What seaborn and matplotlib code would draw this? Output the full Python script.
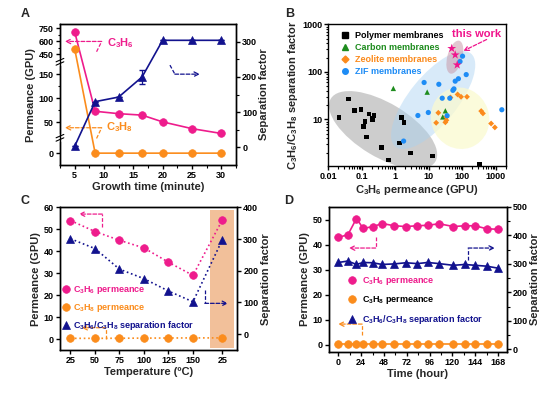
import numpy as np
import pandas as pd
import matplotlib
matplotlib.use("Agg")
import matplotlib.pyplot as plt
import matplotlib.transforms as mtransforms
from matplotlib.patches import Ellipse
from matplotlib.lines import Line2D
from matplotlib.ticker import MultipleLocator, FixedLocator, FuncFormatter
import seaborn as sns

PINK = "#ee1c8c"
ORANGE = "#fb8c1c"
NAVY = "#12128e"

# A) permeance / separation factor vs growth time
growth_time = [5, 8.5, 12.5, 16.5, 20, 25, 30]
a_c3h6 = [712, 73, 68, 65, 51, 37, 27]
a_c3h8 = [515, 0.3, 0.3, 0.3, 0.3, 0.3, 0.3]
a_sf = [3, 130, 143, 200, 304, 304, 304]
a_sf_err = [0, 0, 0, 20, 0, 0, 0]

# B) Robeson-type comparison (GPU, separation factor)
polymer_x = [0.021, 0.040, 0.061, 0.093, 0.114, 0.123, 0.138, 0.165, 0.20, 0.228, 0.207,
             0.39, 0.63, 1.5, 1.8, 1.34, 2.77, 12.8, 324]
polymer_y = [11.0, 26.7, 15.2, 16.2, 7.2, 9.1, 4.3, 12.9, 10.4, 12.0, 10.0,
             2.57, 1.39, 11.0, 8.6, 3.2, 1.96, 1.7, 1.13]
carbon_x = [0.87, 8.9, 31, 26]
carbon_y = [45, 37.6, 15.2, 11.3]
zeolite_x = [16.5, 19.1, 33.3, 33.3, 31, 44, 72, 91, 137, 364, 410, 720, 930]
zeolite_y = [8.5, 13.8, 11.2, 9.6, 8.7, 29, 33.6, 30, 30, 15, 13.4, 8.2, 6.8]
zif_x = [1.76, 4.7, 7.2, 9.6, 19.8, 25, 42, 35, 52, 56, 61, 76, 85, 101, 130, 1500]
zif_y = [3.5, 12.1, 60, 14, 55, 28, 28, 12, 41, 44, 64, 72, 166, 215, 88, 16]
this_work_x = [48, 61, 70]
this_work_y = [313, 229, 141]

# C) temperature cycle
temp_labels = ["25", "50", "75", "100", "125", "150", "25"]
c_c3h6 = [54, 49, 45, 41.5, 35, 29, 54.3]
c_c3h8 = [0.3, 0.3, 0.35, 0.4, 0.45, 0.5, 0.5]
c_sf = [301, 270, 205, 175, 136, 102, 298]

# D) long-term stability
d_time = [0, 10, 19, 26, 36, 46, 59, 71, 83, 94, 106, 121, 133, 144, 156, 168]
d_c3h6 = [42.9, 43.9, 50.4, 46.5, 47.1, 48.4, 47.5, 47.2, 47.5, 47.7, 48.3, 47.2, 47.5, 47.5, 46.3, 46.1]
d_c3h8 = [0.3, 0.3, 0.3, 0.3, 0.3, 0.3, 0.3, 0.3, 0.3, 0.3, 0.3, 0.3, 0.3, 0.3, 0.3, 0.3]
d_sf = [305, 310, 298, 305, 304, 298, 300, 304, 301, 305, 301, 295, 298, 295, 292, 285]

C3H6 = "C$_3$H$_6$"
C3H8 = "C$_3$H$_8$"

sns.set_theme(style="ticks")
plt.rcParams["font.family"] = ["Liberation Sans", "DejaVu Sans"]
plt.rcParams["font.weight"] = "bold"
plt.rcParams["axes.labelweight"] = "bold"
plt.rcParams["mathtext.fontset"] = "custom"
plt.rcParams["mathtext.rm"] = "Liberation Sans:bold"
plt.rcParams["mathtext.it"] = "Liberation Sans:bold"
plt.rcParams["mathtext.bf"] = "Liberation Sans:bold"
plt.rcParams["mathtext.default"] = "rm"
plt.rcParams["axes.linewidth"] = 1.0
plt.rcParams["axes.edgecolor"] = "black"
for k in ("xtick", "ytick"):
    plt.rcParams[f"{k}.direction"] = "out"
    plt.rcParams[f"{k}.major.size"] = 3
    plt.rcParams[f"{k}.minor.size"] = 1.8
    plt.rcParams[f"{k}.major.width"] = 1.0
    plt.rcParams[f"{k}.minor.width"] = 0.8
    plt.rcParams[f"{k}.labelsize"] = 6.5
    plt.rcParams[f"{k}.major.pad"] = 1.5
    plt.rcParams[f"{k}.color"] = "black"
plt.rcParams["axes.labelsize"] = 8
plt.rcParams["axes.labelpad"] = 1.5

fig = plt.figure(figsize=(5.5, 3.95), dpi=100)
axA = fig.add_axes([0.109, 0.582, 0.320, 0.357])
axB = fig.add_axes([0.597, 0.580, 0.323, 0.358])
axC = fig.add_axes([0.109, 0.114, 0.322, 0.361])
axD = fig.add_axes([0.598, 0.110, 0.323, 0.366])

for ax, lab, (lx, ly) in zip([axA, axB, axC, axD], "ABCD",
                             [(0.045, 0.965), (0.527, 0.965), (0.045, 0.49), (0.525, 0.49)]):
    fig.text(lx, ly, lab, fontsize=9, fontweight="bold", va="center", ha="center")


def bent_arrow(ax, pts, color):
    xs, ys = zip(*pts)
    ax.plot(xs[:-1], ys[:-1], ls=(0, (3, 1.5)), color=color, lw=0.9,
            transform=ax.transAxes, clip_on=False, zorder=6)
    ax.annotate("", xy=pts[-1], xytext=pts[-2], xycoords="axes fraction",
                textcoords="axes fraction", zorder=6,
                arrowprops=dict(arrowstyle="->", ls=(0, (3, 1.5)), color=color, lw=0.9,
                                shrinkA=0, shrinkB=0, mutation_scale=8))


def ball(color):
    return dict(marker="o", markersize=5.5, markerfacecolor=color,
                markeredgecolor=color, markeredgewidth=0.5)


def tri(color):
    return dict(marker="^", markersize=6, markerfacecolor=color,
                markeredgecolor=color, markeredgewidth=0.5)


# ---------------- A ----------------
A_NODES = [-13.5, 0, 18, 150, 176, 367, 750, 798]
A_POS = [0, 11.7, 27.3, 91, 102.7, 103.9, 136.7, 141]


def a_fwd(v):
    return np.interp(v, A_NODES, A_POS)


def a_inv(p):
    return np.interp(p, A_POS, A_NODES)


axA.set_yscale("function", functions=(a_fwd, a_inv))
sns.lineplot(x=growth_time, y=a_c3h6, ax=axA, color=PINK, lw=1.2, **ball(PINK))
sns.lineplot(x=growth_time, y=a_c3h8, ax=axA, color=ORANGE, lw=1.2, **ball(ORANGE))
axA.set_ylim(-13.5, 798)
axA.yaxis.set_major_locator(FixedLocator([0, 50, 100, 150, 450, 600, 750]))
axA.yaxis.set_minor_locator(FixedLocator([75, 125, 525, 675]))
axA.set_xlim(2.5, 32.5)
axA.xaxis.set_major_locator(MultipleLocator(5))
axA.xaxis.set_minor_locator(MultipleLocator(2.5))
axA.set_xlabel("Growth time (minute)")
axA.set_ylabel("Permeance (GPU)")

for yb in (A_POS[2] / A_POS[-1], 0.5 * (A_POS[4] + A_POS[5]) / A_POS[-1]):
    axA.plot([0, 0], [yb - 0.018, yb + 0.018], color="white", lw=2.5,
             transform=axA.transAxes, clip_on=False, zorder=7)
    for d in (-0.012, 0.012):
        axA.plot([-0.022, 0.022], [yb + d - 0.012, yb + d + 0.012], color="black", lw=0.8,
                 transform=axA.transAxes, clip_on=False, zorder=8)

axA2 = axA.twinx()
sns.lineplot(x=growth_time, y=a_sf, ax=axA2, color=NAVY, lw=1.2, **tri(NAVY))
axA2.errorbar(growth_time, a_sf, yerr=a_sf_err, fmt="none", ecolor=NAVY, elinewidth=0.9, capsize=2)
axA2.set_ylim(-50, 350)
axA2.yaxis.set_major_locator(FixedLocator([0, 100, 200, 300]))
axA2.yaxis.set_minor_locator(FixedLocator([50, 150, 250]))
axA2.set_ylabel("Separation factor")

bent_arrow(axA, [(0.208, 0.804), (0.237, 0.877), (0.028, 0.877)], PINK)
bent_arrow(axA, [(0.208, 0.189), (0.237, 0.265), (0.028, 0.265)], ORANGE)
bent_arrow(axA, [(0.625, 0.709), (0.653, 0.645), (0.795, 0.645)], NAVY)
axA.text(0.269, 0.867, C3H6, color=PINK, fontsize=8, va="center", transform=axA.transAxes)
axA.text(0.261, 0.272, C3H8, color=ORANGE, fontsize=8, va="center", transform=axA.transAxes)

# ---------------- B ----------------
B_GREEN = "#1e8c1e"
B_ORANGE = "#fb8a1c"
B_BLUE = "#1e8cf5"
B_PINK = "#f0148c"
axB.set_xscale("log")
axB.set_yscale("log")


def region(cx, cy, w, h, ang, color, alpha):
    tr = fig.dpi_scale_trans + mtransforms.ScaledTranslation(cx, cy, axB.transData)
    axB.add_patch(Ellipse((0, 0), w, h, angle=ang, transform=tr, facecolor=color,
                          edgecolor="none", alpha=alpha, zorder=1))


df_b = pd.concat([
    pd.DataFrame({"perm": polymer_x, "sf": polymer_y, "kind": "Polymer membranes"}),
    pd.DataFrame({"perm": carbon_x, "sf": carbon_y, "kind": "Carbon membranes"}),
    pd.DataFrame({"perm": zeolite_x, "sf": zeolite_y, "kind": "Zeolite membranes"}),
    pd.DataFrame({"perm": zif_x, "sf": zif_y, "kind": "ZIF membranes"}),
    pd.DataFrame({"perm": this_work_x, "sf": this_work_y, "kind": "this work"}),
], ignore_index=True)
b_palette = {"Polymer membranes": "black", "Carbon membranes": B_GREEN,
             "Zeolite membranes": B_ORANGE, "ZIF membranes": B_BLUE, "this work": B_PINK}
b_markers = {"Polymer membranes": "s", "Carbon membranes": "^",
             "Zeolite membranes": "D", "ZIF membranes": "o", "this work": "*"}
b_sizes = {"Polymer membranes": 11, "Carbon membranes": 15,
           "Zeolite membranes": 9, "ZIF membranes": 14, "this work": 45}

axB.set_xlim(0.01, 2000)
axB.set_ylim(1.05, 1000)
region(0.43, 5.96, 1.22, 0.54, -31, "#bdbdbd", 0.75)
region(13.4, 25.5, 1.20, 0.48, 51, "#a9d2f2", 0.45)
region(85.5, 10.6, 0.58, 0.62, 20, "#fafad0", 0.75)
region(59.5, 205, 0.34, 0.15, 75, "#c99aaa", 0.55)

sns.scatterplot(data=df_b, x="perm", y="sf", hue="kind", style="kind", size="kind",
                palette=b_palette, markers=b_markers, sizes=b_sizes,
                linewidth=0, legend=False, ax=axB, zorder=3)
fmt = FuncFormatter(lambda v, p: f"{v:g}")
axB.xaxis.set_major_formatter(fmt)
axB.yaxis.set_major_formatter(fmt)
axB.set_xlabel(C3H6 + " permeance (GPU)")
axB.set_ylabel(C3H6 + "/" + C3H8 + " separation factor")
b_handles = [Line2D([], [], ls="", marker=b_markers[k], color=b_palette[k],
                    markersize=4 if k != "Zeolite membranes" else 3.5)
             for k in list(b_palette)[:4]]
axB.legend(b_handles, list(b_palette)[:4], loc="upper left", frameon=False, fontsize=6.5,
           labelcolor=[b_palette[k] for k in list(b_palette)[:4]], handletextpad=0.5,
           handlelength=1.2, labelspacing=0.35, borderaxespad=0.3, bbox_to_anchor=(0.03, 1.0))
axB.text(0.835, 0.931, "this work", color=B_PINK, fontsize=8, fontweight="bold",
         ha="center", va="center", transform=axB.transAxes)
axB.annotate("", xy=(0.760, 0.813), xytext=(0.891, 0.894), xycoords="axes fraction",
             arrowprops=dict(arrowstyle="->", ls=(0, (3, 1.5)), color=B_PINK, lw=0.9,
                             shrinkA=0, shrinkB=0, mutation_scale=8))

# ---------------- C ----------------
c_pos = list(range(6)) + [6.2]
axC.axvspan(5.68, 6.68, ymin=0.015, ymax=0.985, color="#f2c09a", zorder=0, lw=0)
sns.lineplot(x=c_pos, y=c_c3h6, ax=axC, color=PINK, lw=1.2, ls=":", **ball(PINK))
sns.lineplot(x=c_pos, y=c_c3h8, ax=axC, color=ORANGE, lw=1.2, ls=":", **ball(ORANGE))
axC.set_ylim(-5, 60)
axC.yaxis.set_major_locator(MultipleLocator(10))
axC.set_xlim(-0.43, 6.8)
axC.set_xticks(c_pos)
axC.set_xticklabels(temp_labels)
axC.set_xlabel("Temperature (\u00baC)")
axC.set_ylabel("Permeance (GPU)")
axC2 = axC.twinx()
sns.lineplot(x=c_pos, y=c_sf, ax=axC2, color=NAVY, lw=1.2, ls=":", **tri(NAVY))
axC2.set_ylim(-50, 400)
axC2.yaxis.set_major_locator(FixedLocator([0, 100, 200, 300, 400]))
axC2.set_ylabel("Separation factor")
bent_arrow(axC, [(0.239, 0.864), (0.239, 0.953), (0.107, 0.953)], PINK)
bent_arrow(axC, [(0.259, 0.077), (0.259, 0.156), (0.122, 0.156)], ORANGE)
bent_arrow(axC, [(0.818, 0.42), (0.818, 0.327), (0.949, 0.327)], NAVY)
leg_handles = [Line2D([], [], ls="", color=PINK, **ball(PINK)),
               Line2D([], [], ls="", color=ORANGE, **ball(ORANGE)),
               Line2D([], [], ls="", color=NAVY, **tri(NAVY))]
leg_labels = [C3H6 + " permeance", C3H8 + " permeance", C3H6 + "/" + C3H8 + " separation factor"]
axC2.legend(leg_handles, leg_labels, loc="upper left", bbox_to_anchor=(0.01, 0.46),
            frameon=False, fontsize=6.5, labelcolor=[PINK, ORANGE, NAVY], handletextpad=0.3,
            handlelength=1.0, labelspacing=0.6, borderpad=0, borderaxespad=0)

# ---------------- D ----------------
sns.lineplot(x=d_time, y=d_c3h6, ax=axD, color=PINK, lw=1.2, **ball(PINK))
sns.lineplot(x=d_time, y=d_c3h8, ax=axD, color=ORANGE, lw=1.2, **ball(ORANGE))
axD.set_ylim(-2.7, 55)
axD.yaxis.set_major_locator(MultipleLocator(10))
axD.set_xlim(-10, 177)
axD.xaxis.set_major_locator(MultipleLocator(24))
axD.xaxis.set_minor_locator(MultipleLocator(12))
axD.set_xlabel("Time (hour)")
axD.set_ylabel("Permeance (GPU)")
axD2 = axD.twinx()
sns.lineplot(x=d_time, y=d_sf, ax=axD2, color=NAVY, lw=1.2, **tri(NAVY))
axD2.set_ylim(-8, 500)
axD2.yaxis.set_major_locator(MultipleLocator(100))
axD2.yaxis.set_minor_locator(MultipleLocator(50))
axD2.set_ylabel("Separation factor")
bent_arrow(axD, [(0.263, 0.789), (0.263, 0.716), (0.113, 0.716)], PINK)
bent_arrow(axD, [(0.187, 0.116), (0.187, 0.19), (0.052, 0.19)], ORANGE)
bent_arrow(axD, [(0.784, 0.635), (0.784, 0.716), (0.934, 0.716)], NAVY)
axD2.legend(leg_handles, leg_labels, loc="upper left", bbox_to_anchor=(0.10, 0.53),
            frameon=False, fontsize=6.5, labelcolor=[PINK, "black", NAVY], handletextpad=0.5,
            handlelength=1.2, labelspacing=0.8, borderpad=0, borderaxespad=0)

for ax in (axA2, axC2, axD2):
    ax.yaxis.label.set_rotation(90)

fig.savefig("out.png", dpi=100)
